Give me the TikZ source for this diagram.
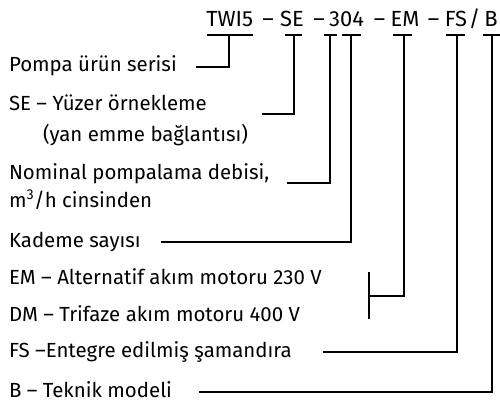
\documentclass[tikz,border=0pt]{standalone}
\usepackage{fontspec}
\setmainfont{Fira Sans}
\begin{document}
\begin{tikzpicture}[x=1bp,y=-1bp,line width=2bp,
  txt/.style={anchor=base west,inner sep=0pt,font=\fontsize{20.5}{24}\selectfont},
  part/.style={anchor=base,inner sep=0pt,font=\fontsize{22}{24}\selectfont}]
\useasboundingbox (0,0) rectangle (500,401);

% type code
\node[part] (TWI)  at (229.7,26) {TWI5};
\node[part] (d1)   at (268,26)   {–};
\node[part] (SE)   at (292,26)   {SE};
\node[part] (d2)   at (319,26)   {–};
\node[part] (Q)    at (346.5,26) {304};
\node[part] (d3)   at (379.5,26) {–};
\node[part] (EM)   at (405,26)   {EM};
\node[part] (d4)   at (433.5,26) {–};
\node[part] (FS)   at (456,26)   {FS};
\node[part] (sl)   at (474.5,26) {/};
\node[part] (B)    at (491,26)   {B};

% explanations
\node[txt] (serie)  at (8,71)   {Pompa ürün serisi};
\node[txt] (se)     at (8,110)  {SE – Yüzer örnekleme};
\node[txt] (se2)    at (42,141) {(yan emme bağlantısı)};
\node[txt] (nom)    at (8,179)  {Nominal pompalama debisi,};
\node[txt] (nom2)   at (8,207)  {m\textsuperscript{3}/h cinsinden};
\node[txt] (stage)  at (8,247)  {Kademe sayısı};
\node[txt] (em)     at (8,284)  {EM – Alternatif akım motoru 230 V};
\node[txt] (dm)     at (8,321)  {DM – Trifaze akım motoru 400 V};
\node[txt] (fs)     at (8,357)  {FS –Entegre edilmiş şamandıra};
\node[txt] (b)      at (8,397)  {B – Teknik modeli};

% ends of the connectors
\coordinate (serieE) at (196,67);
\coordinate (seE)    at (262,114);
\coordinate (nomE)   at (287,183);
\coordinate (stageE) at (161,242);
\coordinate (motE)   at (369,296);
\coordinate (fsE)    at (323,352);
\coordinate (bE)     at (199,392);

% ticks under the code
\coordinate (tTWI) at (229,35);
\coordinate (tSE)  at (294,35);
\coordinate (tQ)   at (330,35);
\coordinate (tST)  at (351,35);
\coordinate (tEM)  at (404,35);
\coordinate (tFS)  at (457,35);
\coordinate (tB)   at (492,35);

\draw (207,35) -- (253,35);
\draw (285,35) -- (302,35);
\draw (324,35) -- (337,35);
\draw (342,35) -- (361,35);
\draw (393,35) -- (412,35);
\draw (446,35) -- (465,35);
\draw (483,35) -- (500,35);

\draw (tTWI) |- (serieE);
\draw (tSE)  |- (seE);
\draw (tQ)   |- (nomE);
\draw (tST)  |- (stageE);
\draw (tEM)  |- (motE);
\draw (tFS)  |- (fsE);
\draw (tB)   |- (bE);
\draw (369,272) -- (369,319);

\end{tikzpicture}
\end{document}
